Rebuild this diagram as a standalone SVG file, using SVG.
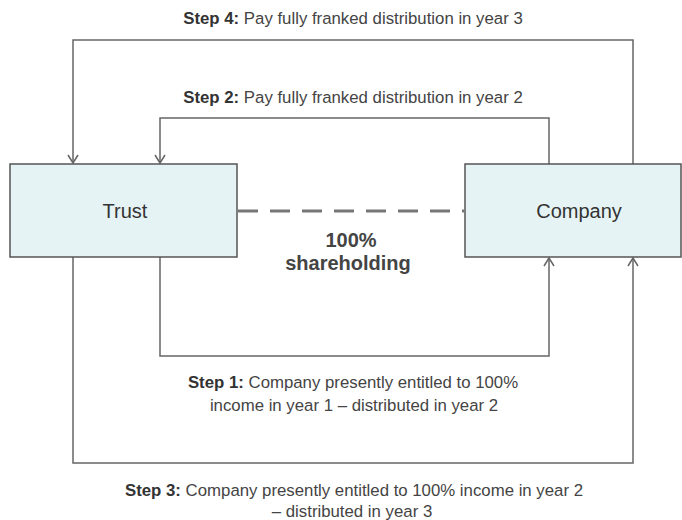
<svg xmlns="http://www.w3.org/2000/svg" width="682" height="520" viewBox="0 0 682 520">
<defs>
<marker id="arr" markerWidth="12" markerHeight="12" refX="10" refY="6" orient="auto" markerUnits="userSpaceOnUse" viewBox="0 0 12 12">
<path d="M2,1 L10,6 L2,11" fill="none" stroke="#666" stroke-width="1.5"/>
</marker>
<style>
.box{fill:#e6f3f5;stroke:#555;stroke-width:1.5}
.lbl{font-family:"Liberation Sans",Arial,sans-serif;font-size:20px;fill:#333;text-anchor:middle}
.t{font-family:"Liberation Sans",Arial,sans-serif;font-size:16.8px;fill:#444;text-anchor:middle}
.b{font-weight:bold;fill:#333}
.c{fill:none;stroke:#666;stroke-width:1.5}
.d{fill:none;stroke:#777;stroke-width:3;stroke-dasharray:20 12}
</style>
</defs>
<g id="connectors">
<path class="c" d="M633,164 V40 H73 V163" marker-end="url(#arr)"/>
<path class="c" d="M549,164 V118 H160 V163" marker-end="url(#arr)"/>
<path class="c" d="M160,257 V356 H549 V258" marker-end="url(#arr)"/>
<path class="c" d="M73,257 V463 H633 V258" marker-end="url(#arr)"/>
<path class="d" d="M238,211 H464"/>
</g>
<g id="trust">
<rect class="box" x="10" y="164" width="227" height="93"/>
<text class="lbl" x="125" y="218">Trust</text>
</g>
<g id="company">
<rect class="box" x="465" y="164" width="216" height="93"/>
<text class="lbl" x="579" y="218">Company</text>
</g>
<g id="labels">
<text class="t" x="353" y="24"><tspan class="b">Step 4:</tspan> Pay fully franked distribution in year 3</text>
<text class="t" x="353" y="103"><tspan class="b">Step 2:</tspan> Pay fully franked distribution in year 2</text>
<text class="lbl" x="351" y="247" style="font-weight:bold;fill:#444">100%</text>
<text class="lbl" x="348" y="270" style="font-weight:bold;fill:#444">shareholding</text>
<text class="t" x="353" y="388"><tspan class="b">Step 1:</tspan> Company presently entitled to 100%</text>
<text class="t" x="354" y="411">income in year 1 – distributed in year 2</text>
<text class="t" x="354" y="496"><tspan class="b">Step 3:</tspan> Company presently entitled to 100% income in year 2</text>
<text class="t" x="352" y="517">– distributed in year 3</text>
</g>
</svg>
